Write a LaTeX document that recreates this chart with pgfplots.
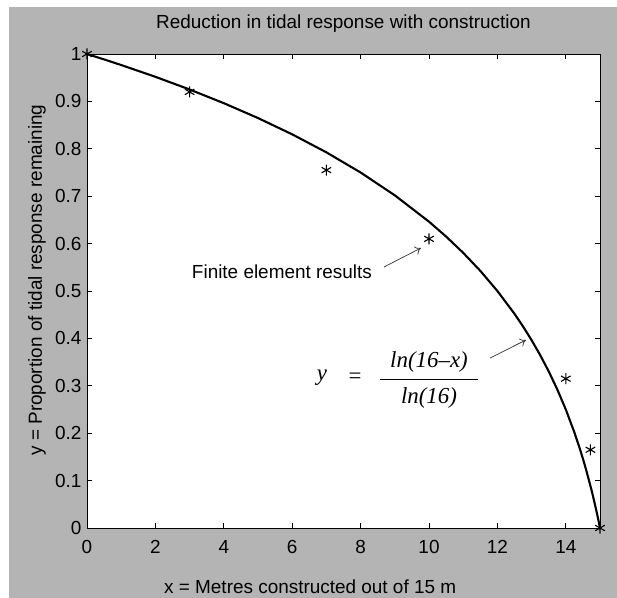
\documentclass[border=0pt]{standalone}
\usepackage{pgfplots}
\pgfplotsset{compat=1.18}
\usetikzlibrary{arrows.meta}
\usepackage{fontspec}
\setmainfont{Liberation Sans}
\newfontfamily\serifit{Liberation Serif}
\definecolor{figgray}{RGB}{180,180,180}
\begin{document}
\begin{tikzpicture}[x=1bp,y=1bp]
\fill[white] (-87,-70) rectangle (530,528);
\fill[figgray] (-78,-70) rectangle (530,521);
\begin{axis}[
  at={(0,0)}, anchor=south west,
  scale only axis, width=513bp, height=474bp,
  xmin=0, xmax=15, ymin=0, ymax=1,
  axis background/.style={fill=white},
  axis line style={black, line width=0.8bp},
  tick align=inside, tick pos=both,
  major tick length=5bp,
  tick style={black, line width=0.8bp},
  xtick={0,2,4,6,8,10,12,14},
  ytick={0,0.1,0.2,0.3,0.4,0.5,0.6,0.7,0.8,0.9,1},
  yticklabels={0,0.1,0.2,0.3,0.4,0.5,0.6,0.7,0.8,0.9,1},
  /pgf/number format/assume math mode=true,
  tick label style={font=\fontsize{19}{22}\selectfont, text=black},
  xticklabel style={yshift=-9bp},
  yticklabel style={xshift=-2bp},
  title={Reduction in tidal response with construction},
  title style={font=\fontsize{19}{22}\selectfont, at={(axis description cs:0.5,1)}, anchor=center, yshift=24bp, text=black},
  xlabel={x = Metres constructed out of 15 m},
  xlabel style={font=\fontsize{19}{22}\selectfont, at={(axis description cs:0.435,0)}, anchor=center, yshift=-59bp, text=black},
  ylabel={y = Proportion of tidal response remaining},
  ylabel style={font=\fontsize{19}{22}\selectfont, at={(axis description cs:-0.0975,0.523)}, anchor=center, rotate=0, text=black},
  clip=false,
]
\addplot[black, line width=2.1bp, line join=round] coordinates {
(0,1) (0.5,0.98855) (1,0.97672) (2,0.95184) (3,0.92511) (4,0.89624) (5,0.86486)
(6,0.83048) (7,0.79248) (8,0.75) (9,0.70184) (10,0.64624) (10.5,0.61486)
(11,0.58048) (11.5,0.54248) (12,0.5) (12.5,0.45184) (12.75,0.42511) (13,0.39624)
(13.25,0.36486) (13.5,0.33048) (13.75,0.29248) (14,0.25) (14.25,0.20184)
(14.4,0.16952) (14.5,0.14624) (14.6,0.12136) (14.75,0.08048) (14.8,0.06576)
(14.9,0.03438) (14.95,0.01760) (15,0)
};
\addplot[only marks, mark=asterisk, mark size=5.5bp, mark options={line width=1.1bp, black}] coordinates {
(0,1) (3,0.92) (7,0.755) (10,0.61) (14,0.315) (14.72,0.165) (15,0)
};
\node[font=\fontsize{19}{22}\selectfont, anchor=center] at (axis cs:5.70,0.540) {Finite element results};
\draw[-{To[length=6bp,width=9bp]}, line width=0.7bp, black!80] (axis cs:8.684,0.5506) -- (axis cs:9.766,0.5907);
\node[font=\serifit\itshape\fontsize{23}{25}\selectfont, anchor=center] at (axis cs:6.871,0.3165) {y};
\node[font=\serifit\fontsize{23}{25}\selectfont, anchor=center] at (axis cs:7.836,0.3165) {=};
\node[font=\serifit\itshape\fontsize{23}{25}\selectfont, anchor=center] at (axis cs:10.0,0.3502) {ln(16–x)};
\node[font=\serifit\itshape\fontsize{23}{25}\selectfont, anchor=center] at (axis cs:10.0,0.2743) {ln(16)};
\draw[line width=1bp] (axis cs:8.567,0.3143) -- (axis cs:11.433,0.3143);
\draw[-{To[length=6bp,width=9bp]}, line width=0.7bp, black!80] (axis cs:11.784,0.3586) -- (axis cs:12.836,0.3966);
\end{axis}
\pgfresetboundingbox
\path[use as bounding box] (-87,-70) rectangle (530,528);
\end{tikzpicture}
\end{document}
